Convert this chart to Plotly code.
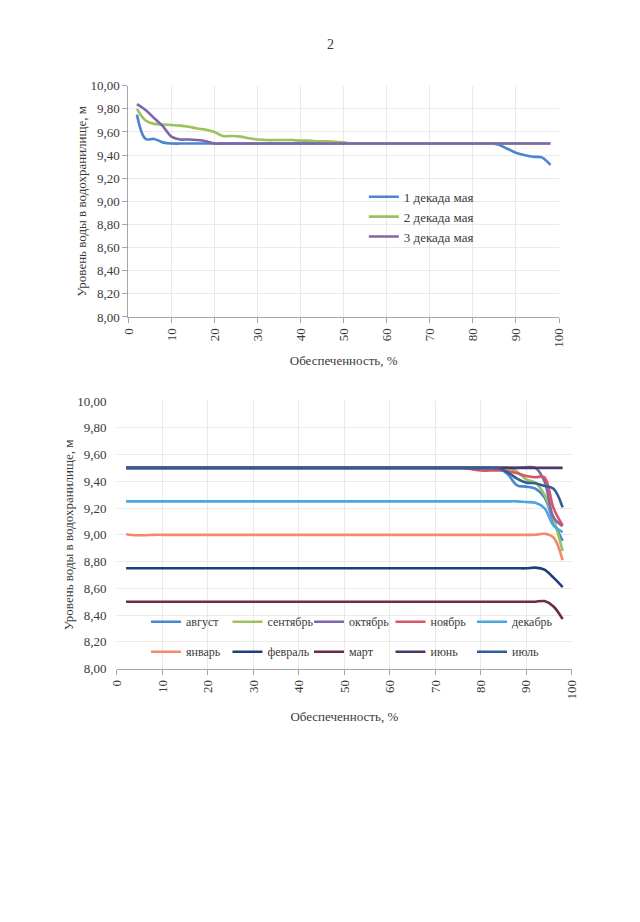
import plotly.graph_objects as go

# --- данные ---------------------------------------------------------------
obesp = [2, 4, 6, 8, 10, 12, 14, 16, 18, 20,
         22, 24, 26, 28, 30, 32, 34, 36, 38, 40,
         42, 44, 46, 48, 50, 52, 54, 56, 58, 60,
         62, 64, 66, 68, 70, 72, 74, 76, 78, 80,
         82, 84, 86, 88, 90, 92, 94, 96, 98]

# верхний график: декады мая
dek1 = [9.75, 9.54, 9.54, 9.51, 9.50, 9.50, 9.50, 9.50, 9.50, 9.50,
        9.50, 9.50, 9.50, 9.50, 9.50, 9.50, 9.50, 9.50, 9.50, 9.50,
        9.50, 9.50, 9.50, 9.50, 9.50, 9.50, 9.50, 9.50, 9.50, 9.50,
        9.50, 9.50, 9.50, 9.50, 9.50, 9.50, 9.50, 9.50, 9.50, 9.50,
        9.50, 9.50, 9.49, 9.455, 9.42, 9.40, 9.385, 9.38, 9.315]
dek2 = [9.80, 9.70, 9.67, 9.665, 9.66, 9.655, 9.645, 9.63, 9.62, 9.60,
        9.565, 9.565, 9.56, 9.545, 9.535, 9.53, 9.53, 9.53, 9.53, 9.525,
        9.525, 9.52, 9.52, 9.515, 9.51, 9.50, 9.50, 9.50, 9.50, 9.50,
        9.50, 9.50, 9.50, 9.50, 9.50, 9.50, 9.50, 9.50, 9.50, 9.50,
        9.50, 9.50, 9.50, 9.50, 9.50, 9.50, 9.50, 9.50, 9.50]
dek3 = [9.84, 9.79, 9.72, 9.65, 9.56, 9.535, 9.535, 9.53, 9.52, 9.50,
        9.50, 9.50, 9.50, 9.50, 9.50, 9.50, 9.50, 9.50, 9.50, 9.50,
        9.50, 9.50, 9.50, 9.50, 9.50, 9.50, 9.50, 9.50, 9.50, 9.50,
        9.50, 9.50, 9.50, 9.50, 9.50, 9.50, 9.50, 9.50, 9.50, 9.50,
        9.50, 9.50, 9.50, 9.50, 9.50, 9.50, 9.50, 9.50, 9.50]

# нижний график: месяцы
avgust = [9.50, 9.50, 9.50, 9.50, 9.50, 9.50, 9.50, 9.50, 9.50, 9.50,
          9.50, 9.50, 9.50, 9.50, 9.50, 9.50, 9.50, 9.50, 9.50, 9.50,
          9.50, 9.50, 9.50, 9.50, 9.50, 9.50, 9.50, 9.50, 9.50, 9.50,
          9.50, 9.50, 9.50, 9.50, 9.50, 9.50, 9.50, 9.50, 9.50, 9.50,
          9.50, 9.50, 9.45, 9.37, 9.36, 9.345, 9.28, 9.10, 8.955]
sentyabr = [9.50, 9.50, 9.50, 9.50, 9.50, 9.50, 9.50, 9.50, 9.50, 9.50,
            9.50, 9.50, 9.50, 9.50, 9.50, 9.50, 9.50, 9.50, 9.50, 9.50,
            9.50, 9.50, 9.50, 9.50, 9.50, 9.50, 9.50, 9.50, 9.50, 9.50,
            9.50, 9.50, 9.50, 9.50, 9.50, 9.50, 9.50, 9.50, 9.50, 9.50,
            9.50, 9.50, 9.50, 9.47, 9.415, 9.39, 9.30, 9.12, 8.88]
oktyabr = [9.50, 9.50, 9.50, 9.50, 9.50, 9.50, 9.50, 9.50, 9.50, 9.50,
           9.50, 9.50, 9.50, 9.50, 9.50, 9.50, 9.50, 9.50, 9.50, 9.50,
           9.50, 9.50, 9.50, 9.50, 9.50, 9.50, 9.50, 9.50, 9.50, 9.50,
           9.50, 9.50, 9.50, 9.50, 9.50, 9.50, 9.50, 9.50, 9.50, 9.50,
           9.50, 9.50, 9.50, 9.50, 9.505, 9.50, 9.40, 9.13, 9.065]
noyabr = [9.50, 9.50, 9.50, 9.50, 9.50, 9.50, 9.50, 9.50, 9.50, 9.50,
          9.50, 9.50, 9.50, 9.50, 9.50, 9.50, 9.50, 9.50, 9.50, 9.50,
          9.50, 9.50, 9.50, 9.50, 9.50, 9.50, 9.50, 9.50, 9.50, 9.50,
          9.50, 9.50, 9.50, 9.50, 9.50, 9.50, 9.50, 9.50, 9.49, 9.48,
          9.48, 9.48, 9.475, 9.46, 9.44, 9.43, 9.43, 9.20, 9.07]
dekabr = [9.25, 9.25, 9.25, 9.25, 9.25, 9.25, 9.25, 9.25, 9.25, 9.25,
          9.25, 9.25, 9.25, 9.25, 9.25, 9.25, 9.25, 9.25, 9.25, 9.25,
          9.25, 9.25, 9.25, 9.25, 9.25, 9.25, 9.25, 9.25, 9.25, 9.25,
          9.25, 9.25, 9.25, 9.25, 9.25, 9.25, 9.25, 9.25, 9.25, 9.25,
          9.25, 9.25, 9.25, 9.25, 9.245, 9.24, 9.20, 9.07, 9.02]
yanvar = [9.005, 8.997, 8.997, 9.00, 9.00, 9.00, 9.00, 9.00, 9.00, 9.00,
          9.00, 9.00, 9.00, 9.00, 9.00, 9.00, 9.00, 9.00, 9.00, 9.00,
          9.00, 9.00, 9.00, 9.00, 9.00, 9.00, 9.00, 9.00, 9.00, 9.00,
          9.00, 9.00, 9.00, 9.00, 9.00, 9.00, 9.00, 9.00, 9.00, 9.00,
          9.00, 9.00, 9.00, 9.00, 9.00, 9.00, 9.008, 8.98, 8.81]
fevral = [8.75, 8.75, 8.75, 8.75, 8.75, 8.75, 8.75, 8.75, 8.75, 8.75,
          8.75, 8.75, 8.75, 8.75, 8.75, 8.75, 8.75, 8.75, 8.75, 8.75,
          8.75, 8.75, 8.75, 8.75, 8.75, 8.75, 8.75, 8.75, 8.75, 8.75,
          8.75, 8.75, 8.75, 8.75, 8.75, 8.75, 8.75, 8.75, 8.75, 8.75,
          8.75, 8.75, 8.75, 8.75, 8.75, 8.755, 8.74, 8.68, 8.61]
mart = [8.50, 8.50, 8.50, 8.50, 8.50, 8.50, 8.50, 8.50, 8.50, 8.50,
        8.50, 8.50, 8.50, 8.50, 8.50, 8.50, 8.50, 8.50, 8.50, 8.50,
        8.50, 8.50, 8.50, 8.50, 8.50, 8.50, 8.50, 8.50, 8.50, 8.50,
        8.50, 8.50, 8.50, 8.50, 8.50, 8.50, 8.50, 8.50, 8.50, 8.50,
        8.50, 8.50, 8.50, 8.50, 8.50, 8.50, 8.505, 8.465, 8.37]
iyun = [9.50, 9.50, 9.50, 9.50, 9.50, 9.50, 9.50, 9.50, 9.50, 9.50,
        9.50, 9.50, 9.50, 9.50, 9.50, 9.50, 9.50, 9.50, 9.50, 9.50,
        9.50, 9.50, 9.50, 9.50, 9.50, 9.50, 9.50, 9.50, 9.50, 9.50,
        9.50, 9.50, 9.50, 9.50, 9.50, 9.50, 9.50, 9.50, 9.50, 9.50,
        9.50, 9.50, 9.50, 9.50, 9.50, 9.50, 9.50, 9.50, 9.50]
iyul = [9.50, 9.50, 9.50, 9.50, 9.50, 9.50, 9.50, 9.50, 9.50, 9.50,
        9.50, 9.50, 9.50, 9.50, 9.50, 9.50, 9.50, 9.50, 9.50, 9.50,
        9.50, 9.50, 9.50, 9.50, 9.50, 9.50, 9.50, 9.50, 9.50, 9.50,
        9.50, 9.50, 9.50, 9.50, 9.50, 9.50, 9.50, 9.50, 9.50, 9.50,
        9.50, 9.495, 9.465, 9.42, 9.39, 9.385, 9.365, 9.345, 9.205]

# --- оформление -------------------------------------------------------------
SERIF = "Liberation Serif"
TXT = "#3a3a3a"
GRID = "#e9e9e9"
FS = 13

fig = go.Figure()

verh = [("1 декада мая", dek1, "#4a85d0"),
        ("2 декада мая", dek2, "#9bc25f"),
        ("3 декада мая", dek3, "#7f66ab")]
for nazv, y, cvet in verh:
    fig.add_trace(go.Scatter(x=obesp, y=y, name=nazv, mode="lines",
                             line=dict(color=cvet, width=2.6, shape="spline"),
                             xaxis="x", yaxis="y", legend="legend"))

niz = [("август", avgust, "#4a85d0", "legend2"),
       ("сентябрь", sentyabr, "#9bc25f", "legend2"),
       ("октябрь", oktyabr, "#7f66ab", "legend2"),
       ("ноябрь", noyabr, "#d95468", "legend2"),
       ("декабрь", dekabr, "#4aa6de", "legend2"),
       ("январь", yanvar, "#f3896b", "legend3"),
       ("февраль", fevral, "#1f3d7a", "legend3"),
       ("март", mart, "#6e2b3b", "legend3"),
       ("июнь", iyun, "#4a3868", "legend3"),
       ("июль", iyul, "#2e5f98", "legend3")]
for nazv, y, cvet, leg in niz:
    fig.add_trace(go.Scatter(x=obesp, y=y, name=nazv, mode="lines",
                             line=dict(color=cvet, width=2.6, shape="spline"),
                             xaxis="x2", yaxis="y2", legend=leg))

shrift = dict(family=SERIF, size=FS, color=TXT)
shrift_leg = dict(family=SERIF, size=12, color=TXT)

os_x = dict(range=[0, 100], dtick=10, tickangle=-90, showgrid=True,
            gridcolor=GRID, gridwidth=1, zeroline=False, showline=True,
            linecolor="#a6a6a6", linewidth=1, ticks="outside", ticklen=5,
            tickcolor="#a6a6a6", tickfont=shrift, automargin=False)
os_y = dict(range=[8, 10], dtick=0.2, tickformat=".2f", showgrid=True,
            gridcolor=GRID, gridwidth=1, zeroline=False,
            tickfont=shrift, automargin=False)

fig.update_layout(
    width=640, height=922,
    margin=dict(l=0, r=0, t=0, b=0),
    paper_bgcolor="white", plot_bgcolor="white",
    separators=", ",
    font=shrift,
    xaxis=dict(os_x, domain=[0.188, 0.861], anchor="y",
               title=dict(text="Обеспеченность, %", standoff=9, font=shrift)),
    yaxis=dict(os_y, domain=[0.6649, 0.9157], anchor="x", showline=True,
               linecolor="#a6a6a6", ticks="outside", ticklen=5, tickcolor="#a6a6a6",
               title=dict(text="Уровень воды в водохранилище, м", standoff=0, font=shrift)),
    xaxis2=dict(os_x, domain=[0.1703, 0.8808], anchor="y2",
                title=dict(text="Обеспеченность, %", standoff=13, font=shrift)),
    yaxis2=dict(os_y, domain=[0.2834, 0.5738], anchor="x2", showline=False,
                ticks="outside", ticklen=7, tickcolor="rgba(0,0,0,0)",
                title=dict(text="Уровень воды в водохранилище, м", standoff=0, font=shrift)),
    legend=dict(x=0.556, y=0.8115, xanchor="left", yanchor="top",
                bgcolor="rgba(0,0,0,0)", font=shrift, itemwidth=30, tracegroupgap=0),
    legend2=dict(orientation="h", x=0.2156, y=0.3500, xanchor="left", yanchor="top",
                 bgcolor="rgba(0,0,0,0)", entrywidth=36.5, entrywidthmode="pixels",
                 font=shrift_leg, itemwidth=30),
    legend3=dict(orientation="h", x=0.2156, y=0.3175, xanchor="left", yanchor="top",
                 bgcolor="rgba(0,0,0,0)", entrywidth=36.5, entrywidthmode="pixels",
                 font=shrift_leg, itemwidth=30),
    annotations=[dict(text="2", x=322 / 640, y=1 - 37 / 922, xref="paper", yref="paper",
                      xanchor="center", yanchor="middle", showarrow=False,
                      font=dict(family=SERIF, size=14, color=TXT))],
)

fig.write_html("out.html")
